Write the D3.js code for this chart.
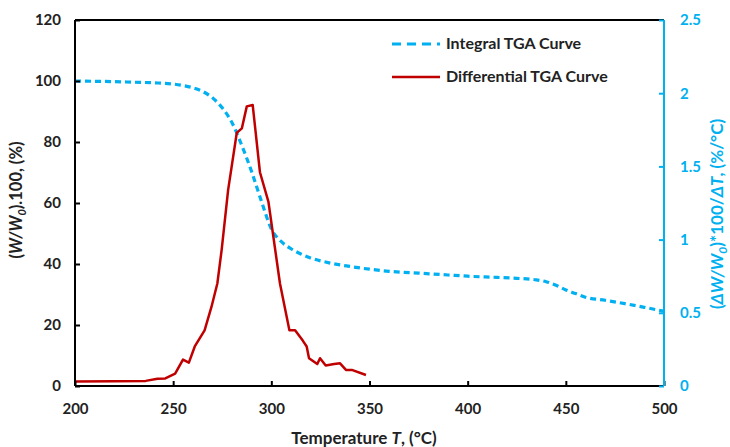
<!DOCTYPE html>
<html><head><meta charset="utf-8">
<script src="https://cdn.jsdelivr.net/npm/d3@7"></script>
<style>body{margin:0;background:#fff}svg{display:block}text{font-family:Lato,"Open Sans",sans-serif;font-weight:bold}</style>
</head><body><svg id="c" width="730" height="447"></svg>
<script>
const xTicks=[200,250,300,350,400,450,500];
const leftTicks=[0,20,40,60,80,100,120];
const rightTicks=[0,0.5,1,1.5,2,2.5];
const rightTickLabels=["0","0.5","1","1.5","2","2.5"];
// Integral TGA curve (W/W0 %, left axis)
const intT=[200,210,220,230,240,250,255,260,265,270,275,280,285,290,295,300,305,310,315,320,330,340,350,360,375,390,400,415,425,435,440,445,450,455,460,470,480,490,500];
const intV=[100,99.9,99.8,99.6,99.4,99.0,98.5,97.8,96.6,94.5,91.2,86.3,78.8,70.2,60.5,51.5,47.4,45.0,43.3,42.0,40.3,39.2,38.3,37.6,37.0,36.4,36.0,35.6,35.3,34.8,34.2,33.0,31.5,30.3,29.1,28.1,27.0,25.8,24.5];
// Differential TGA curve (%/°C, right axis)
const difT=[200,220,236,242,246,251,255,258,261,266,269.5,272.5,274.7,278,282.4,285,287.5,290.5,294.2,298.5,304.4,309.2,312.1,316,318,319.2,323.4,324.8,327.7,332,335,338,341,348.2];
const difV=[0.03,0.032,0.035,0.05,0.052,0.085,0.18,0.16,0.27,0.38,0.54,0.70,0.93,1.34,1.73,1.76,1.91,1.92,1.46,1.26,0.70,0.38,0.38,0.31,0.27,0.19,0.15,0.19,0.14,0.15,0.155,0.11,0.11,0.075];

const blue="#00B0F0", red="#C00000";
const L=75,R=664,T=20,B=386;
const svg=d3.select("#c");
const x=d3.scaleLinear().domain([200,500]).range([L,R]);
const yL=d3.scaleLinear().domain([0,120]).range([B,T]);
const yR=d3.scaleLinear().domain([0,2.5]).range([B,T]);

// frame top
svg.append("line").attr("x1",L).attr("x2",R).attr("y1",T).attr("y2",T).attr("stroke","#000").attr("stroke-width",2);

// curves
const lineI=d3.line().x((d,i)=>x(intT[i])).y(d=>yL(d)).curve(d3.curveMonotoneX);
svg.append("path").attr("d",lineI(intV)).attr("fill","none").attr("stroke",blue).attr("stroke-width",3.2).attr("stroke-dasharray","6,4");
const lineD=d3.line().x((d,i)=>x(difT[i])).y(d=>yR(d));
svg.append("path").attr("d",lineD(difV)).attr("fill","none").attr("stroke",red).attr("stroke-width",2.5).attr("stroke-linejoin","round");

// axes
const ax=svg.append("g").attr("transform",`translate(0,${B})`).call(d3.axisBottom(x).tickValues(xTicks).tickSize(-5).tickPadding(17).tickFormat(d3.format("d")));
const ayL=svg.append("g").attr("transform",`translate(${L},0)`).call(d3.axisLeft(yL).tickValues(leftTicks).tickSize(-5).tickPadding(14));
const ayR=svg.append("g").attr("transform",`translate(${R},0)`).call(d3.axisRight(yR).tickValues(rightTicks).tickSize(-5).tickPadding(16).tickFormat((d,i)=>rightTickLabels[i]));
[ax,ayL,ayR].forEach(g=>{g.selectAll("text").style("font-size","15px").style("font-family","Lato,sans-serif").style("font-weight","bold");g.select(".domain").attr("stroke-width",2);g.selectAll(".tick line").attr("stroke-width",2);});
ax.selectAll("text").attr("fill","#222");
ayL.selectAll("text").attr("fill","#222");
ax.select(".domain").attr("d",`M${L},0H${R}`);
ayL.select(".domain").attr("d",`M0,${T}V${B}`);
ayR.select(".domain").attr("d",`M0,${T}V${B}`).attr("stroke",blue);
ayR.selectAll(".tick line").attr("stroke",blue);
ayR.selectAll("text").attr("fill",blue);

// axis titles
const t1=svg.append("text").attr("transform","translate(22,200) rotate(-90)").attr("text-anchor","middle").style("font-size","16.5px").attr("fill","#222");
t1.append("tspan").text("(");
t1.append("tspan").attr("font-style","italic").text("W/W");
t1.append("tspan").attr("font-style","italic").attr("font-size","11px").attr("dy",4).text("0");
t1.append("tspan").attr("dy",-4).text(").100, (%)");

const t2=svg.append("text").attr("transform","translate(723,214) rotate(-90)").attr("text-anchor","middle").style("font-size","17px").attr("fill",blue);
t2.append("tspan").text("(");
t2.append("tspan").attr("font-style","italic").text("ΔW/W");
t2.append("tspan").attr("font-style","italic").attr("font-size","12px").attr("dy",4).text("0");
t2.append("tspan").attr("dy",-4).text(")*100/");
t2.append("tspan").attr("font-style","italic").text("ΔT");
t2.append("tspan").text(", (%/°C)");

const t3=svg.append("text").attr("x",364).attr("y",444).attr("text-anchor","middle").style("font-size","17px").attr("fill","#222");
t3.append("tspan").text("Temperature ");
t3.append("tspan").attr("font-style","italic").text("T");
t3.append("tspan").text(", (°C)");

// legend
const leg=[{label:"Integral TGA Curve",color:blue,dash:"9,6",w:3,y:44},{label:"Differential TGA Curve",color:red,dash:null,w:2.5,y:77}];
leg.forEach(d=>{
  svg.append("line").attr("x1",392).attr("x2",440).attr("y1",d.y).attr("y2",d.y).attr("stroke",d.color).attr("stroke-width",d.w).attr("stroke-dasharray",d.dash);
  svg.append("text").attr("x",446).attr("y",d.y+5).style("font-size","16px").attr("fill","#222").text(d.label);
});
</script></body></html>
